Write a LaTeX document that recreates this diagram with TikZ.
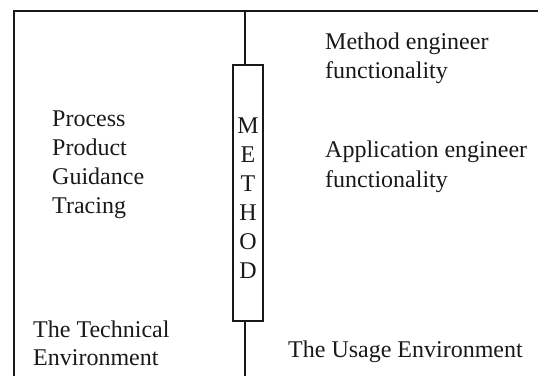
\documentclass[tikz,border=0pt]{standalone}
\usepackage{fontspec}
\setmainfont{Liberation Serif}
\begin{document}
\begin{tikzpicture}[x=1pt,y=-1pt,
  rule/.style={line width=1.2pt,color=black!90},
  lbl/.style={anchor=base west,inner sep=0pt,font=\fontsize{24}{29}\selectfont,text=black!90},
  letter/.style={anchor=base,inner sep=0pt,font=\fontsize{24}{29}\selectfont,text=black!90},
  methodbox/.style={draw,rule,rectangle,minimum width=30pt,minimum height=256pt,inner sep=0pt}]
\useasboundingbox (0,0) rectangle (538,376);
% frame coordinates
\coordinate (tl) at (14,11);
\coordinate (tr) at (538,11);
\coordinate (bl) at (14,376);
\coordinate (ct) at (245,11);
\coordinate (cb) at (245,376);
% method box
\node[methodbox] (box) at (248,193) {};
\foreach \l/\y [count=\i] in {M/133,E/162,T/191,H/220,O/249,D/278}
  \node[letter] (m\i) at (248,\y) {\l};
% lines
\draw[rule] (bl) -- (tl) -- (tr);
\draw[rule] (ct) -- (box.north -| ct);
\draw[rule] (box.south -| cb) -- (cb);
% left texts
\node[lbl] (process) at (52,126) {Process};
\node[lbl] (product) at (52,155) {Product};
\node[lbl] (guidance) at (52,184) {Guidance};
\node[lbl] (tracing) at (52,213) {Tracing};
\node[lbl] (tech1) at (33,337) {The Technical};
\node[lbl] (tech2) at (33,365) {Environment};
% right texts
\node[lbl] (me1) at (325,49) {Method engineer};
\node[lbl] (me2) at (325,78) {functionality};
\node[lbl] (ae1) at (325,157) {Application engineer};
\node[lbl] (ae2) at (325,187) {functionality};
\node[lbl] (usage) at (288,357) {The Usage Environment};
\end{tikzpicture}
\end{document}
